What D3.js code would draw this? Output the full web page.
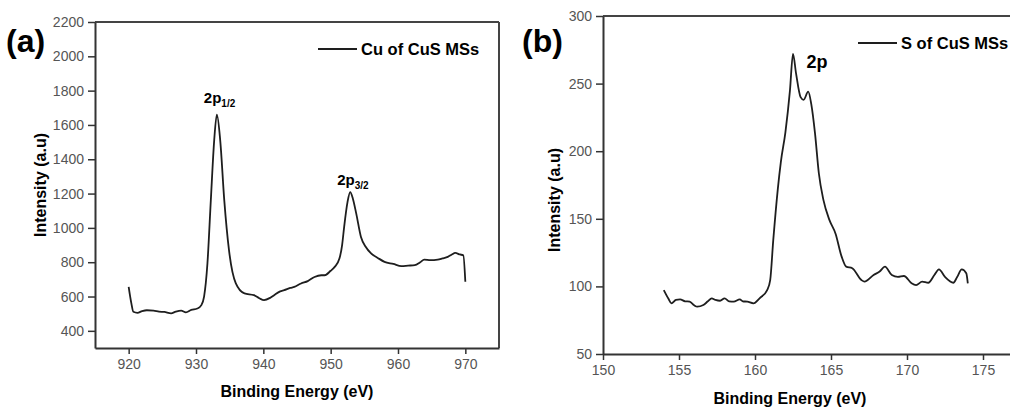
<!DOCTYPE html>
<html>
<head>
<meta charset="utf-8">
<script src="https://cdn.jsdelivr.net/npm/d3@7"></script>
<style>
  body { margin: 0; background: #fff; }
  svg { display: block; font-family: "Liberation Sans", Arial, sans-serif; }
</style>
</head>
<body>
<svg width="1010" height="407"></svg>
<script>
// Cu 2p spectrum, panel (a)
var cuBE = [920.0, 920.4, 920.7, 921.3, 922.0, 922.7, 923.7, 924.5, 925.3, 926.3, 927.0, 927.8, 928.5, 929.3,
  930.2, 930.8, 931.2, 931.7, 932.2, 932.7, 933.1, 933.6, 934.2, 934.9, 935.9, 937.2, 938.6, 939.4, 940.1,
  941.0, 941.6, 942.5, 943.1, 944.0, 944.6, 945.6, 946.6, 947.6, 948.6, 949.1, 950.0, 950.6, 951.3, 951.7,
  952.0, 952.5, 952.9, 953.3, 953.8, 954.5, 955.2, 956.0, 957.0, 958.0, 959.3, 960.5, 961.5, 962.5, 963.3,
  963.9, 964.8, 965.9, 966.6, 967.4, 968.0, 968.5, 969.2, 969.7, 970.0]
var cuInt = [656, 560, 511, 505, 515, 520, 518, 512, 510, 502, 512, 518, 508, 522,
  530, 550, 600, 794, 1160, 1509, 1660, 1509, 1160, 870, 678, 618, 608, 590, 579,
  592, 608, 630, 637, 650, 656, 676, 690, 714, 724, 724, 750, 773, 821, 900,
  1005, 1150, 1209, 1170, 1083, 947, 890, 851, 825, 802, 790, 777, 780, 783, 800,
  815, 812, 815, 822, 831, 845, 854, 845, 840, 686]

// S 2p spectrum, panel (b)
var sBE = [154.0, 154.3, 154.5, 154.8, 155.07, 155.4, 155.7, 156.0, 156.2, 156.6, 156.9, 157.15, 157.4, 157.7,
  158.0, 158.3, 158.6, 159.0, 159.2, 159.5, 159.9, 160.3, 160.8, 161.0, 161.2, 161.5, 161.7, 162.0, 162.3,
  162.5, 162.7, 163.0, 163.2, 163.5, 163.7, 163.95, 164.2, 164.5, 164.9, 165.3, 165.7, 166.0, 166.4, 167.0,
  167.2, 167.8, 168.2, 168.55, 169.0, 169.4, 169.8, 170.3, 170.6, 171.0, 171.4, 171.8, 172.1, 172.5, 173.05,
  173.3, 173.6, 173.9, 174.0]
var sInt = [97.3, 91, 87.5, 90, 90.4, 89, 88.7, 86, 85, 86.2, 89, 91.2, 90, 89.4,
  91.2, 89, 88.7, 90.4, 89, 88.7, 87.5, 91.2, 97.3, 104.7, 134, 172, 192, 214, 245,
  272, 257.6, 240, 238, 244, 235, 213, 183.7, 164, 149, 139, 122, 114.6, 113.4, 104.7,
  103.5, 108.4, 111, 114.6, 108.4, 107, 107.7, 102.3, 101, 103.5, 102.7, 108.4, 112.6, 107, 102.7,
  107, 112.6, 109.7, 102.3]

var cuXTicks = [920, 930, 940, 950, 960, 970]
var cuYTicks = [400, 600, 800, 1000, 1200, 1400, 1600, 1800, 2000, 2200]
var sXTicks = [150, 155, 160, 165, 170, 175]
var sYTicks = [50, 100, 150, 200, 250, 300]

var svg = d3.select("svg")
svg.append("rect").attr("width", 1010).attr("height", 407).attr("fill", "#fff")

function panel(opt) {
  var x = d3.scaleLinear().domain(opt.xDomain).range([opt.left, opt.right])
  var y = d3.scaleLinear().domain(opt.yDomain).range([opt.bottom, opt.top])
  var g = svg.append("g")

  // frame: top and right sides
  g.append("line")
    .attr("x1", x.range()[0]).attr("x2", x.range()[1])
    .attr("y1", y.range()[1]).attr("y2", y.range()[1])
    .attr("stroke", "#444").attr("stroke-width", 2)
  g.append("line")
    .attr("x1", x.range()[1]).attr("x2", x.range()[1])
    .attr("y1", y.range()[0]).attr("y2", y.range()[1])
    .attr("stroke", "#444").attr("stroke-width", 2)

  var xAxis = g.append("g")
    .attr("transform", "translate(0," + opt.bottom + ")")
    .call(d3.axisBottom(x).tickValues(opt.xTicks).tickFormat(d3.format("d"))
      .tickSize(6).tickPadding(5).tickSizeOuter(0))
  var yAxis = g.append("g")
    .attr("transform", "translate(" + opt.left + ",0)")
    .call(d3.axisLeft(y).tickValues(opt.yTicks).tickFormat(d3.format("d"))
      .tickSize(7).tickPadding(4).tickSizeOuter(0))
  ;[xAxis, yAxis].forEach(function(a) {
    a.select(".domain").attr("stroke", "#333").attr("stroke-width", 2)
    a.selectAll(".tick line").attr("stroke", "#333").attr("stroke-width", 1.5)
    a.selectAll(".tick text").attr("fill", "#555").style("font-size", "14px")
  })

  // spectrum
  var line = d3.line()
    .x(function(d) { return x(d[0]) })
    .y(function(d) { return y(d[1]) })
    .curve(d3.curveMonotoneX)
  g.append("path")
    .datum(d3.zip(opt.be, opt.intensity))
    .attr("d", line)
    .attr("fill", "none")
    .attr("stroke", "#1e1e1e")
    .attr("stroke-width", 1.8)

  // axis titles
  g.append("text")
    .attr("x", opt.xTitle[0]).attr("y", opt.xTitle[1])
    .attr("text-anchor", "middle")
    .style("font-size", "16px").style("font-weight", "bold")
    .text("Binding Energy (eV)")
  g.append("text")
    .attr("transform", "translate(" + opt.yTitle[0] + "," + opt.yTitle[1] + ") rotate(-90)")
    .attr("text-anchor", "middle")
    .style("font-size", "16px").style("font-weight", "bold")
    .text("Intensity (a.u)")

  // panel letter
  g.append("text")
    .attr("x", opt.letter[0]).attr("y", opt.letter[1])
    .style("font-size", "32px").style("font-weight", "bold")
    .text(opt.letter[2])

  // legend
  g.append("line")
    .attr("x1", opt.legend[0]).attr("x2", opt.legend[0] + 39)
    .attr("y1", opt.legend[1]).attr("y2", opt.legend[1])
    .attr("stroke", "#1e1e1e").attr("stroke-width", 1.8)
  g.append("text")
    .attr("x", opt.legend[0] + 43).attr("y", opt.legend[1] + 5.5)
    .style("font-size", "16.5px").style("font-weight", "bold")
    .text(opt.legend[2])

  return { g: g, x: x, y: y }
}

var a = panel({
  xDomain: [915, 975], yDomain: [300, 2200],
  left: 95, right: 499, top: 22, bottom: 348,
  xTicks: cuXTicks, yTicks: cuYTicks,
  be: cuBE, intensity: cuInt,
  xTitle: [297, 397], yTitle: [46, 185],
  letter: [6, 52, "(a)"],
  legend: [318, 49, "Cu of CuS MSs"]
})

var b = panel({
  xDomain: [150, 177], yDomain: [50, 300],
  left: 603, right: 603 + 27 * 15.2, top: 16, bottom: 354,
  xTicks: sXTicks, yTicks: sYTicks,
  be: sBE, intensity: sInt,
  xTitle: [790, 404], yTitle: [560, 200],
  letter: [522, 52, "(b)"],
  legend: [858, 43, "S of CuS MSs"]
})

// peak labels
function peakLabel(p, be, val, dy, main, sub, size) {
  var t = p.g.append("text")
    .attr("x", p.x(be)).attr("y", p.y(val) - dy)
    .attr("text-anchor", "middle")
    .style("font-size", size + "px").style("font-weight", "bold")
  t.append("tspan").text(main)
  if (sub) {
    t.append("tspan").attr("dy", 4).style("font-size", (size - 5) + "px").text(sub)
  }
}
peakLabel(a, 933.5, 1660, 12, "2p", "1/2", 15)
peakLabel(a, 953.3, 1209, 7, "2p", "3/2", 15)

b.g.append("text")
  .attr("x", b.x(162.6) + 12).attr("y", b.y(272) + 14)
  .style("font-size", "18px").style("font-weight", "bold")
  .text("2p")
</script>
</body>
</html>
